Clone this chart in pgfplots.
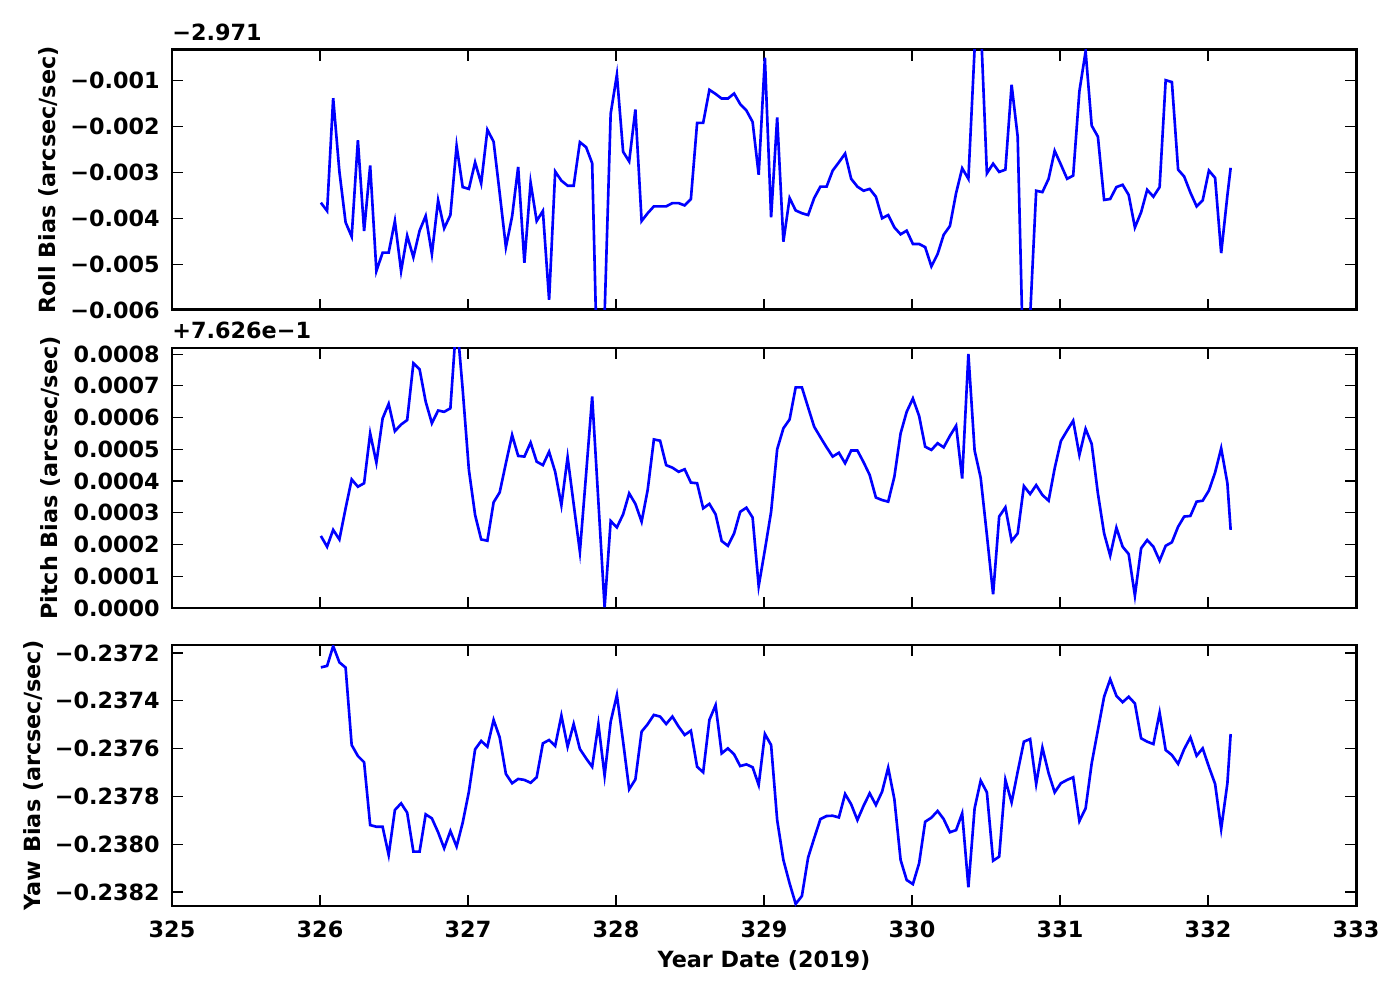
\documentclass[border=0pt]{standalone}
\usepackage{fontspec}
\setmainfont{DejaVu Sans}
\usepackage{pgfplots}
\usepackage{pgfplotstable}
\pgfplotsset{compat=1.18}
\pgfplotstableread{
x roll pitch yaw
326.006 -0.00366 0.000227 -0.237260
326.048 -0.00384 0.000193 -0.237254
326.089 -0.00138 0.000246 -0.237171
326.131 -0.00298 0.000216 -0.237239
326.173 -0.00409 0.000314 -0.237261
326.214 -0.00440 0.000405 -0.237585
326.256 -0.00230 0.000382 -0.237631
326.298 -0.00428 0.000393 -0.237657
326.339 -0.00285 0.000550 -0.237920
326.381 -0.00515 0.000458 -0.237927
326.423 -0.00475 0.000597 -0.237927
326.464 -0.00475 0.000643 -0.238045
326.506 -0.00406 0.000557 -0.237857
326.548 -0.00515 0.000578 -0.237829
326.589 -0.00438 0.000592 -0.237868
326.631 -0.00485 0.000771 -0.238031
326.673 -0.00427 0.000752 -0.238031
326.714 -0.00395 0.000650 -0.237875
326.756 -0.00478 0.000582 -0.237892
326.798 -0.00361 0.000622 -0.237950
326.839 -0.00422 0.000618 -0.238017
326.881 -0.00393 0.000629 -0.237945
326.923 -0.00242 0.000913 -0.238010
326.964 -0.00332 0.000689 -0.237910
327.006 -0.00336 0.000435 -0.237780
327.048 -0.00278 0.000293 -0.237603
327.089 -0.00324 0.000216 -0.237568
327.131 -0.00207 0.000212 -0.237592
327.173 -0.00233 0.000333 -0.237480
327.214 -0.00345 0.000364 -0.237553
327.256 -0.00463 0.000456 -0.237706
327.298 -0.00396 0.000545 -0.237745
327.339 -0.00288 0.000479 -0.237727
327.381 -0.00497 0.000477 -0.237731
327.423 -0.00322 0.000521 -0.237743
327.464 -0.00406 0.000461 -0.237720
327.506 -0.00384 0.000450 -0.237578
327.548 -0.00578 0.000492 -0.237564
327.589 -0.00298 0.000429 -0.237589
327.631 -0.00318 0.000324 -0.237462
327.673 -0.00329 0.000475 -0.237592
327.714 -0.00329 0.000327 -0.237497
327.756 -0.00234 0.000177 -0.237602
327.798 -0.00245 0.000422 -0.237641
327.839 -0.00280 0.000666 -0.237676
327.881 -0.00833 0.000335 -0.237498
327.923 -0.00610 0.000002 -0.237713
327.964 -0.00172 0.000274 -0.237487
328.006 -0.00087 0.000254 -0.237376
328.048 -0.00255 0.000295 -0.237571
328.089 -0.00276 0.000361 -0.237770
328.131 -0.00163 0.000328 -0.237729
328.173 -0.00406 0.000272 -0.237529
328.214 -0.00389 0.000372 -0.237498
328.256 -0.00374 0.000531 -0.237459
328.298 -0.00374 0.000527 -0.237466
328.339 -0.00374 0.000450 -0.237497
328.381 -0.00367 0.000442 -0.237466
328.423 -0.00367 0.000429 -0.237508
328.464 -0.00372 0.000437 -0.237543
328.506 -0.00358 0.000395 -0.237525
328.548 -0.00192 0.000393 -0.237676
328.589 -0.00192 0.000314 -0.237699
328.631 -0.00120 0.000328 -0.237480
328.673 -0.00129 0.000295 -0.237418
328.714 -0.00139 0.000211 -0.237620
328.756 -0.00139 0.000196 -0.237599
328.798 -0.00128 0.000235 -0.237624
328.839 -0.00151 0.000303 -0.237673
328.881 -0.00165 0.000316 -0.237666
328.923 -0.00190 0.000285 -0.237678
328.964 -0.00305 0.000069 -0.237752
329.006 -0.00050 0.000183 -0.237539
329.048 -0.00398 0.000303 -0.237585
329.089 -0.00180 0.000500 -0.237899
329.131 -0.00451 0.000566 -0.238066
329.173 -0.00356 0.000594 -0.238164
329.214 -0.00383 0.000695 -0.238250
329.256 -0.00389 0.000695 -0.238217
329.298 -0.00393 0.000632 -0.238056
329.339 -0.00356 0.000571 -0.237975
329.381 -0.00331 0.000538 -0.237895
329.423 -0.00331 0.000506 -0.237882
329.464 -0.00296 0.000477 -0.237881
329.506 -0.00278 0.000489 -0.237888
329.548 -0.00259 0.000456 -0.237790
329.589 -0.00314 0.000496 -0.237833
329.631 -0.00331 0.000496 -0.237899
329.673 -0.00340 0.000459 -0.237839
329.714 -0.00336 0.000419 -0.237787
329.756 -0.00353 0.000348 -0.237836
329.798 -0.00400 0.000340 -0.237780
329.839 -0.00393 0.000335 -0.237680
329.881 -0.00420 0.000414 -0.237812
329.923 -0.00435 0.000550 -0.238066
329.964 -0.00427 0.000618 -0.238150
330.006 -0.00456 0.000660 -0.238167
330.048 -0.00456 0.000605 -0.238080
330.089 -0.00463 0.000508 -0.237906
330.131 -0.00505 0.000498 -0.237889
330.173 -0.00478 0.000519 -0.237861
330.214 -0.00436 0.000506 -0.237895
330.256 -0.00417 0.000542 -0.237950
330.298 -0.00345 0.000574 -0.237941
330.339 -0.00291 0.000408 -0.237871
330.381 -0.00314 0.000800 -0.238180
330.423 -0.00030 0.000496 -0.237850
330.464 0.00030 0.000410 -0.237734
330.506 -0.00302 0.000230 -0.237783
330.548 -0.00281 0.000043 -0.238069
330.589 -0.00299 0.000288 -0.238052
330.631 -0.00294 0.000317 -0.237731
330.673 -0.00109 0.000211 -0.237825
330.714 -0.00222 0.000235 -0.237697
330.756 -0.00775 0.000384 -0.237571
330.798 -0.00615 0.000359 -0.237560
330.839 -0.00340 0.000387 -0.237748
330.881 -0.00343 0.000356 -0.237596
330.923 -0.00314 0.000338 -0.237703
330.964 -0.00253 0.000440 -0.237783
331.006 -0.00283 0.000526 -0.237745
331.048 -0.00314 0.000559 -0.237731
331.089 -0.00307 0.000590 -0.237720
331.131 -0.00123 0.000482 -0.237903
331.173 -0.00036 0.000564 -0.237850
331.214 -0.00198 0.000517 -0.237662
331.256 -0.00222 0.000361 -0.237522
331.298 -0.00360 0.000235 -0.237383
331.339 -0.00358 0.000165 -0.237310
331.381 -0.00332 0.000253 -0.237379
331.423 -0.00327 0.000193 -0.237406
331.464 -0.00349 0.000170 -0.237383
331.506 -0.00420 0.000039 -0.237411
331.548 -0.00387 0.000188 -0.237557
331.589 -0.00338 0.000214 -0.237571
331.631 -0.00353 0.000193 -0.237581
331.673 -0.00332 0.000149 -0.237450
331.714 -0.00099 0.000196 -0.237606
331.756 -0.00103 0.000207 -0.237627
331.798 -0.00294 0.000256 -0.237664
331.839 -0.00309 0.000288 -0.237602
331.881 -0.00344 0.000290 -0.237553
331.923 -0.00374 0.000335 -0.237630
331.964 -0.00361 0.000338 -0.237599
332.006 -0.00296 0.000370 -0.237676
332.048 -0.00312 0.000427 -0.237748
332.089 -0.00476 0.000503 -0.237936
332.131 -0.00350 0.000393 -0.237745
332.153 -0.00290 0.000246 -0.237539
}\biasdata

\newcommand{\lblfont}{\bfseries\fontsize{12.7}{14.5}\selectfont}
\pgfplotsset{
  biasaxis/.style={
    scale only axis, width=23.68cm, height=5.2cm,
    xmin=325, xmax=333, xtick={325,326,327,328,329,330,331,332,333},
    scaled ticks=false,
    tick align=inside, xtick pos=both, ytick pos=both,
    major tick length=0.22cm,
    tick style={black, line width=0.6pt},
    axis line style={line width=1.7pt},
    tick label style={font=\lblfont},
    label style={font=\lblfont},
    /pgf/number format/assume math mode=true,
    yticklabel style={anchor=east, inner sep=0pt, xshift=-0.24cm},
    xticklabel style={anchor=north, inner sep=0pt, yshift=-0.3cm},
    ylabel style={at={(axis description cs:-0.1047,0.5)}, anchor=center},
  }
}

\begin{document}
\begin{tikzpicture}
\path[use as bounding box] (0,0) rectangle (28,20);

\begin{axis}[biasaxis, at={(3.44cm,13.8cm)}, anchor=south west,
  ymin=-0.006, ymax=-0.000331,
  ytick={-0.006,-0.005,-0.004,-0.003,-0.002,-0.001},
  yticklabels={−0.006,−0.005,−0.004,−0.003,−0.002,−0.001},
  xticklabels={},
  ylabel={Roll Bias (arcsec/sec)},
  extra description/.code={\node[anchor=base west, inner sep=0pt, font=\lblfont] at (axis description cs:0,1.0365) {−2.971};},
]
\addplot[blue, line width=1.5pt] table[x=x, y=roll] {\biasdata};
\end{axis}

\begin{axis}[biasaxis, at={(3.44cm,7.84cm)}, anchor=south west,
  ymin=0, ymax=0.000819,
  ytick={0,0.0001,0.0002,0.0003,0.0004,0.0005,0.0006,0.0007,0.0008},
  yticklabels={0.0000,0.0001,0.0002,0.0003,0.0004,0.0005,0.0006,0.0007,0.0008},
  xticklabels={},
  ylabel={Pitch Bias (arcsec/sec)},
  ylabel style={at={(axis description cs:-0.1030,0.5)}},
  extra description/.code={\node[anchor=base west, inner sep=0pt, font=\lblfont] at (axis description cs:0,1.038) {+7.626e−1};},
]
\addplot[blue, line width=1.5pt] table[x=x, y=pitch] {\biasdata};
\end{axis}

\begin{axis}[biasaxis, at={(3.44cm,1.88cm)}, anchor=south west, height=5.22cm,
  ymin=-0.2382586, ymax=-0.2371665,
  ytick={-0.2382,-0.2380,-0.2378,-0.2376,-0.2374,-0.2372},
  yticklabels={−0.2382,−0.2380,−0.2378,−0.2376,−0.2374,−0.2372},
  ylabel={Yaw Bias (arcsec/sec)},
  ylabel style={at={(axis description cs:-0.1166,0.5)}},
  xlabel={Year Date (2019)},
  xlabel style={at={(axis description cs:0.5,-0.2375)}, anchor=base},
]
\addplot[blue, line width=1.5pt] table[x=x, y=yaw] {\biasdata};
\end{axis}
\end{tikzpicture}
\end{document}
